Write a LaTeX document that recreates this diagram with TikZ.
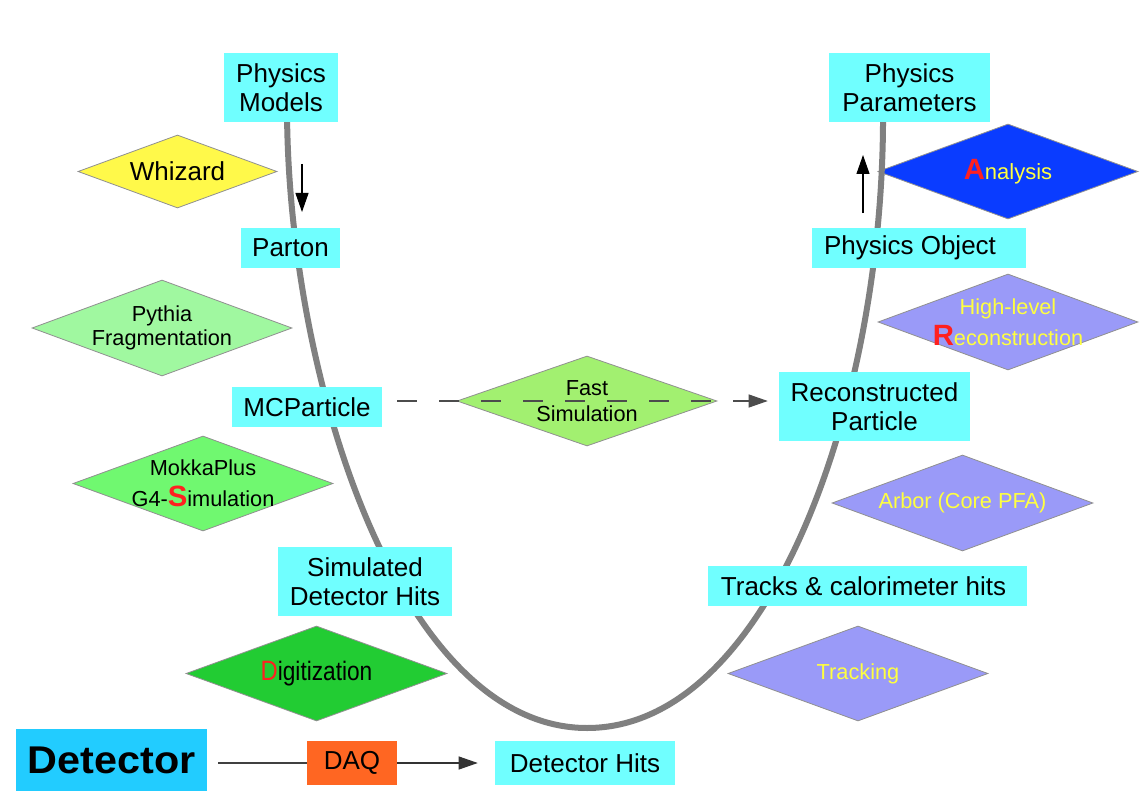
\documentclass[tikz,border=0pt]{standalone}
\usepackage{fontspec}
\setmainfont{Liberation Sans}
\usepackage{graphicx}
\usetikzlibrary{shapes.geometric,arrows.meta}
\definecolor{boxcyan}{HTML}{70FFFF}
\definecolor{detblue}{HTML}{22CCFF}
\definecolor{daqorange}{HTML}{FF6622}
\definecolor{whizyellow}{HTML}{FFF94A}
\definecolor{pythgreen}{HTML}{A0F8A0}
\definecolor{mokgreen}{HTML}{70F870}
\definecolor{fastgreen}{HTML}{A2F070}
\definecolor{diggreen}{HTML}{22CC33}
\definecolor{anablue}{HTML}{0A3CFF}
\definecolor{lilac}{HTML}{9A9AF8}
\definecolor{txtyellow}{HTML}{FFFF40}
\definecolor{capred}{HTML}{FF2020}
\definecolor{curvegray}{HTML}{808080}
\definecolor{diaedge}{HTML}{909090}
\newcommand{\boxfont}{\fontsize{19.5}{22}\selectfont}
\newcommand{\diafont}{\fontsize{16.3}{18.5}\selectfont}
\newcommand{\redcap}[1]{{\color{capred}\bfseries\fontsize{22}{22}\selectfont #1}}
\begin{document}
\begin{tikzpicture}[x=0.75pt,y=-0.75pt,
  bx/.style 2 args={rectangle, fill=boxcyan, minimum width=#1*0.75pt, minimum height=#2*0.75pt, inner sep=0pt, align=center, font=\boxfont},
  dia/.style n args={3}{diamond, fill=#1, draw=diaedge, line width=0.6pt, minimum width=#2*0.75pt, minimum height=#3*0.75pt, inner sep=0pt},
  dtext/.style={font=\diafont, align=center, inner sep=0pt},
  ytext/.style={font=\diafont, align=center, inner sep=0pt, text=txtyellow},
  conn/.style={line width=0.8pt, black!75},
  arr/.style={line width=0.8pt, black, -{Triangle[length=19*0.75pt, width=13*0.75pt]}},
  dashconn/.style={line width=0.8pt, black!70, dash pattern=on 15pt off 16.5pt, -{Triangle[length=19*0.75pt, width=13*0.75pt]}}
]
\useasboundingbox (0,0) rectangle (1142,806);
\fill[white] (0,0) rectangle (1142,806);

% diamonds
\node[dia={whizyellow}{199}{73}, label={[dtext, font=\boxfont]center:Whizard}] (whiz) at (177.5,171.5) {};
\node[dia={pythgreen}{260}{96}, label={[dtext]center:Pythia\\Fragmentation}] (pyth) at (162,328) {};
\node[dia={fastgreen}{260}{90}, label={[dtext, font=\fontsize{16.3}{19}\selectfont]center:Fast\\Simulation}] (fast) at (587,401) {};
\node[dia={mokgreen}{260}{95}, label={[dtext, font=\fontsize{16.3}{23}\selectfont]center:MokkaPlus\\G4-\redcap{S}imulation}] (mokka) at (203,483.5) {};
\node[dia={diggreen}{261}{95}, label={[dtext]center:\scalebox{0.85}[1]{{\color{capred}\fontsize{21}{21}\selectfont D}\fontsize{20}{20}\selectfont igitization}}] (digit) at (316.5,673.5) {};
\node[dia={anablue}{260}{95}, label={[ytext]center:\redcap{A}\fontsize{16.5}{18}\selectfont nalysis}] (ana) at (1008,171.5) {};
\node[dia={lilac}{260}{96}, label={[ytext, font=\fontsize{16.3}{23}\selectfont]center:High-level\\\redcap{R}econstruction}] (hlr) at (1008,322) {};
\node[dia={lilac}{261}{96}, label={[ytext]center:Arbor (Core PFA)}] (arbor) at (962.5,503) {};
\node[dia={lilac}{260}{95}, label={[ytext]center:Tracking}] (track) at (858,673.5) {};

% the U-shaped flow curve
\draw[curvegray, line width=6*0.75pt] (287,110) .. controls (288,380) and (400,728) .. (587,728)
  .. controls (770,728) and (885,400) .. (883,110);

% boxes
\node[bx={114}{69}] (pm) at (281,87.5) {Physics\\Models};
\node[bx={161}{69}] (pp) at (909.5,87.5) {Physics\\Parameters};
\node[bx={99}{40}] (parton) at (290.5,248) {Parton};
\node[bx={214}{40}] (po) at (919,248) {Physics Object\hspace{13.5pt}};
\node[bx={150}{40}] (mcp) at (307,407) {MCParticle};
\node[bx={191}{69}] (rp) at (874.5,406.5) {Reconstructed\\Particle};
\node[bx={174}{69}] (sdh) at (365,581.5) {Simulated\\Detector Hits};
\node[bx={319}{40}] (tch) at (867.5,586) {Tracks \& calorimeter hits\hspace{6pt}};
\node[bx={180}{44}] (dh) at (585,763) {Detector Hits};
\node[bx={90}{44}, fill=daqorange] (daq) at (352,763) {DAQ};
\node[bx={191}{62}, fill=detblue, font=\bfseries\fontsize{29}{30}\selectfont] (det) at (111.5,760) {\scalebox{1.07}[1]{Detector}};

% connectors
\coordinate (dnA) at (302,164);
\coordinate (dnB) at (302,212);
\coordinate (upA) at (863,213);
\coordinate (upB) at (863,155);
\draw[arr] (dnA) -- (dnB);
\draw[arr] (upA) -- (upB);
\draw[conn, shorten <=11*0.75pt] (det.east |- daq) -- (daq.west);
\draw[arr, black!80, shorten >=17*0.75pt] (daq.east) -- (dh.west);
\draw[dashconn, shorten <=15*0.75pt, shorten >=11*0.75pt] (mcp.east |- fast) -- (rp.west |- fast);
\end{tikzpicture}
\end{document}
